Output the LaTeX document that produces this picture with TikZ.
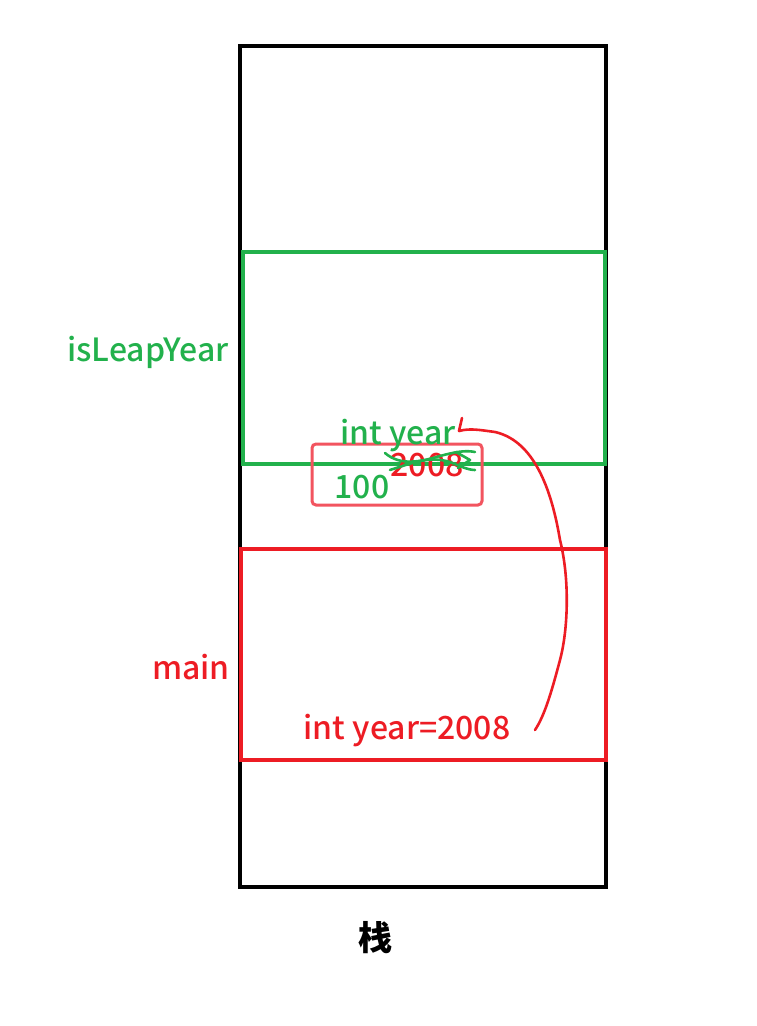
\documentclass[tikz,border=0pt]{standalone}
\usepackage{fontspec}
\setmainfont{Noto Sans CJK SC}[UprightFont=* Medium]
\usetikzlibrary{positioning}
\definecolor{fgreen}{HTML}{22B14C}
\definecolor{fred}{HTML}{ED1C24}
\definecolor{fpink}{HTML}{F2545F}
\tikzset{
    frame/.style={line width=3.5pt},
    lbl/.style={font=\fontsize{32}{36}\selectfont, inner sep=0pt},
    pen/.style={line width=2.6pt, line cap=round, line join=round}
}
\begin{document}
\begin{tikzpicture}[x=1pt, y=-1pt]
        \useasboundingbox (0, 0) rectangle (756, 1026);
        % stack and frames
        \draw[frame, black] (240, 46) rectangle (606, 887);
        \draw[frame, fgreen] (243, 252) rectangle (605, 464);
        \draw[frame, fred] (241, 549) rectangle (606, 760);
        \draw[line width=3pt, fpink, rounded corners=4pt] (312, 444) rectangle (482, 505);
        % labels
        \node[lbl, fgreen] (leap) at (148, 352) {isLeapYear};
        \node[lbl, fred] (main) at (191, 667) {main};
        \node[lbl, fred] (mainyear) at (407, 731) {int year=2008};
        \node[lbl, fgreen] (paramyear) at (398, 436) {int year};
        \node[lbl, fgreen] (hundred) at (362, 487) {100};
        \node[lbl, fred] (old) at (427, 465) {2008};
        \node[font=\fontsize{34}{36}\selectfont\bfseries, inner sep=0pt] (stack) at (375, 938) {栈};
        % crossed out value
        \draw[pen, fgreen] (385, 453) .. controls (400, 466) and (420, 462) .. (440, 456)
            .. controls (455, 452) and (465, 450) .. (475, 452);
        \draw[pen, fgreen] (390, 470) .. controls (415, 462) and (430, 456) .. (450, 462)
            .. controls (460, 466) and (468, 470) .. (475, 470);
        \draw[pen, fgreen] (456, 452) -- (470, 460) -- (458, 468);
        % copy of the argument
        \coordinate (tick) at (462, 418);
        \draw[pen, fred] (tick) -- (459, 431) .. controls (470, 428) and (480, 430) .. (495, 432)
            .. controls (530, 440) and (550, 480) .. (560, 540)
            .. controls (570, 580) and (568, 630) .. (560, 660)
            .. controls (552, 690) and (545, 715) .. (535, 730);
\end{tikzpicture}
\end{document}
